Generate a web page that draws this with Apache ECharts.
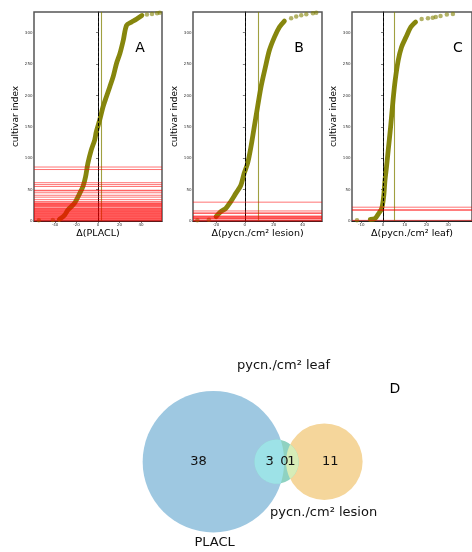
<!DOCTYPE html>
<html>
<head>
<meta charset="utf-8">
<script src="https://cdn.jsdelivr.net/npm/echarts@6/dist/echarts.min.js"></script>
<style>
  html, body { margin: 0; padding: 0; background: #fff; }
  #main { width: 472px; height: 552px; }
</style>
</head>
<body>
<div id="main"></div>
<script>
// ---- panel A : Δ(PLACL) ----
const placlDelta = [-36, -31, -28, -22, -17, -14, -11.6, -9.4, -6.3, -3.1, -1.6, 1.6, 4.7, 7.8, 11, 14.1, 17.2, 20.4, 23.5, 26.6, 31.3, 36, 40.8];
const placlIndex = [2.6, 9.5, 17.5, 28, 44, 55, 70, 92, 113, 129, 142, 161, 182, 198, 214, 230, 251, 267, 288, 312, 317, 322, 327.5];
const placlDotDelta = [-55, -42, 45.5, 50.2, 54.9, 57.4];
const placlDotIndex = [1, 1.5, 329, 330, 331, 332];
const placlRef = 3.4;
const placlHits = [86, 82, 61, 58, 55, 49, 48, 45, 41, 38, 34,
  29, 28, 27, 26, 25, 24, 23, 21, 20, 19, 18, 17, 16, 15, 14, 13, 12, 11, 10, 9, 8, 7, 6, 5, 4, 3, 2, 1, 0, 31];

// ---- panel B : Δ(pycn./cm² lesion) ----
const lesionDelta = [-20, -16.7, -13.3, -9.8, -6.3, -2.8, -0.5, 1.9, 4.2, 6.5, 8.8, 11.2, 14.2, 17, 20.5, 24, 27.4];
const lesionIndex = [7, 15, 20, 31, 44, 57, 76, 92, 118, 150, 182, 214, 245, 272, 293, 309, 318.5];
const lesionDotDelta = [-33, -25, 32.1, 35.6, 39.1, 42.6, 47.2, 49.5];
const lesionDotIndex = [1, 2, 323, 326, 328, 329.6, 331, 332];
const lesionRef = 9.2;
const lesionHits = [30, 16, 13, 12, 8, 7, 6, 5, 4, 3, 1, 0];

// ---- panel C : Δ(pycn./cm² leaf) ----
const leafDelta = [-5.9, -3.7, -2, -0.6, 0.3, 0.9, 1.6, 2.4, 3.5, 4.6, 5.6, 7, 8.5, 10.6, 12.8, 15];
const leafIndex = [2.6, 4, 12, 20, 39, 65, 86, 113, 150, 192, 224, 256, 277, 293, 309, 317];
const leafDotDelta = [-12, 17.8, 20.7, 22.9, 24.3, 26.5, 29.4, 32.2];
const leafDotIndex = [1, 322, 323, 324, 325, 326.5, 329, 330];
const leafRef = 5.3;
const leafHits = [22, 18, 17, 1];

const indexTicks = [0, 50, 100, 150, 200, 250, 300];

// ---- panel D : venn ----
const vennNames = ['PLACL', 'pycn./cm² leaf', 'pycn./cm² lesion'];
// PLACL only, PLACL∩leaf, leaf only, leaf∩lesion, lesion only
const vennCounts = [38, 3, 0, 1, 11];

const font = 'DejaVu Sans';
const olive = '#7f7f00';
const hitRed = 'rgba(255,0,0,0.55)';

function pairs(xs, ys) { return xs.map((x, i) => [x, ys[i]]); }

const panels = [
  { name: 'Δ(PLACL)', delta: placlDelta, idx: placlIndex, dx: placlDotDelta, dy: placlDotIndex,
    ref: placlRef, hits: placlHits, min: -59.5, max: 59.5, ticks: [-40, -20, 0, 20, 40] },
  { name: 'Δ(pycn./cm² lesion)', delta: lesionDelta, idx: lesionIndex, dx: lesionDotDelta, dy: lesionDotIndex,
    ref: lesionRef, hits: lesionHits, min: -36, max: 53.5, ticks: [-20, 0, 20, 40] },
  { name: 'Δ(pycn./cm² leaf)', delta: leafDelta, idx: leafIndex, dx: leafDotDelta, dy: leafDotIndex,
    ref: leafRef, hits: leafHits, min: -14.3, max: 41, ticks: [-10, 0, 10, 20, 30] }
];

const grids = [
  { left: 34, top: 12, width: 128, height: 209 },
  { left: 193, top: 12, width: 129, height: 209 },
  { left: 352, top: 12, width: 129, height: 209 }
].map(g => Object.assign(g, { show: true, borderColor: '#555', borderWidth: 1.5, containLabel: false }));
grids.push({ left: 125, top: 373.3, width: 221, height: 176.8 });

const xAxes = panels.map((p, i) => ({
  type: 'value', gridIndex: i, min: p.min, max: p.max,
  name: p.name, nameLocation: 'middle', nameGap: 8,
  nameTextStyle: { fontFamily: font, fontSize: 9.5, color: '#000' },
  axisLine: { show: true, lineStyle: { color: '#222', width: 1 } },
  axisTick: { show: true, length: 2, customValues: p.ticks, lineStyle: { color: '#222', width: 0.6 } },
  axisLabel: { customValues: p.ticks, fontSize: 4, fontFamily: font, color: '#333', margin: 2 },
  splitLine: { show: false }
}));
xAxes.push({ type: 'value', gridIndex: 3, min: -8, max: 12, show: false });

const yAxes = panels.map((p, i) => ({
  type: 'value', gridIndex: i, min: 0, max: 333,
  name: 'cultivar index', nameLocation: 'middle', nameGap: 14,
  nameTextStyle: { fontFamily: font, fontSize: 9, color: '#000' },
  axisLine: { show: true, lineStyle: { color: '#222', width: 1 } },
  axisTick: { show: true, length: 2, customValues: indexTicks, lineStyle: { color: '#222', width: 0.6 } },
  axisLabel: { customValues: indexTicks, fontSize: 4, fontFamily: font, color: '#333', margin: 1.5 },
  splitLine: { show: false }
}));
yAxes.push({ type: 'value', gridIndex: 3, min: -8, max: 8, show: false });

const series = [];
panels.forEach((p, i) => {
  series.push({
    type: 'line', xAxisIndex: i, yAxisIndex: i, z: 2,
    data: pairs(p.delta, p.idx), showSymbol: false, smooth: 0.3,
    lineStyle: { color: olive, width: 4.8, opacity: 0.95, cap: 'round', join: 'round' },
    markLine: {
      silent: true, symbol: 'none', label: { show: false },
      data: [
        { xAxis: 0, lineStyle: { color: '#000', type: [3, 2], width: 1 } },
        { xAxis: p.ref, lineStyle: { color: 'rgba(128,128,0,0.75)', type: 'solid', width: 1.1 } }
      ]
    }
  });
  series.push({
    type: 'scatter', xAxisIndex: i, yAxisIndex: i, z: 2,
    data: pairs(p.dx, p.dy), symbolSize: 4.5,
    itemStyle: { color: olive, opacity: 0.6 }
  });
  // horizontal red lines across the whole panel at each flagged cultivar index
  series.push({
    type: 'custom', xAxisIndex: i, yAxisIndex: i, z: 5, silent: true,
    data: p.hits.map(v => [p.min, v]),
    renderItem: function (params, api) {
      const a = api.coord([p.min, api.value(1)]);
      const b = api.coord([p.max, api.value(1)]);
      return { type: 'line', shape: { x1: a[0], y1: a[1], x2: b[0], y2: b[1] },
        style: { stroke: hitRed, lineWidth: 1 } };
    }
  });
});

// venn layout (units: sqrt of set size), positions along the centre line
const vennSizes = [vennCounts[0] + vennCounts[1], vennCounts[1] + vennCounts[2] + vennCounts[3], vennCounts[3] + vennCounts[4]];
const vennCentreX = [0, 5.72, 10.04];
const vennCountX = [-1.34, 5.09, 6.42, 7.05, 10.58];
const vennNamePos = [[0.11, -7.33], [6.35, 8.66], [9.97, -4.58]];
const vennFill = ['#9ec8e1', '#8fd2c1', '#f5d69b'];
const overlapFill = ['#9de2e7', '#d6ecb7'];

function lens(a, b) {
  const dx = b.cx - a.cx, dy = b.cy - a.cy;
  const d = Math.hypot(dx, dy), phi = Math.atan2(dy, dx);
  const da = (d * d + a.r * a.r - b.r * b.r) / (2 * d);
  const al = Math.acos(da / a.r), be = Math.acos((d - da) / b.r);
  const pts = [];
  for (let k = 0; k <= 48; k++) {
    const t = phi - al + 2 * al * k / 48;
    pts.push([a.cx + a.r * Math.cos(t), a.cy + a.r * Math.sin(t)]);
  }
  for (let k = 0; k <= 48; k++) {
    const t = phi + Math.PI - be + 2 * be * k / 48;
    pts.push([b.cx + b.r * Math.cos(t), b.cy + b.r * Math.sin(t)]);
  }
  return pts;
}

series.push({
  type: 'custom', xAxisIndex: 3, yAxisIndex: 3, data: [[0, 0]], silent: true, clip: false,
  renderItem: function (params, api) {
    const unit = api.size([1, 1])[0];
    const c = vennSizes.map((n, i) => {
      const p = api.coord([vennCentreX[i], 0]);
      return { cx: p[0], cy: p[1], r: Math.sqrt(n) * unit };
    });
    const children = [];
    [0, 2, 1].forEach(i => children.push({ type: 'circle', shape: c[i], style: { fill: vennFill[i] } }));
    children.push({ type: 'polygon', shape: { points: lens(c[0], c[1]) }, style: { fill: overlapFill[0] } });
    children.push({ type: 'polygon', shape: { points: lens(c[1], c[2]) }, style: { fill: overlapFill[1] } });
    vennCounts.forEach((v, i) => {
      const p = api.coord([vennCountX[i], 0]);
      children.push({ type: 'text', x: p[0], y: p[1], style: {
        text: String(v), fill: '#111', fontFamily: font, fontSize: 13, align: 'center', verticalAlign: 'middle' } });
    });
    vennNames.forEach((nm, i) => {
      const p = api.coord(vennNamePos[i]);
      children.push({ type: 'text', x: p[0], y: p[1], style: {
        text: nm, fill: '#111', fontFamily: font, fontSize: 13, align: 'center', verticalAlign: 'middle' } });
    });
    return { type: 'group', children: children };
  }
});

const letters = [['A', 140, 48], ['B', 299, 48], ['C', 458, 48], ['D', 395, 389]];

const chart = echarts.init(document.getElementById('main'), null, { renderer: 'canvas' });
chart.setOption({
  animation: false,
  backgroundColor: '#fff',
  grid: grids,
  xAxis: xAxes,
  yAxis: yAxes,
  series: series,
  graphic: letters.map(l => ({
    type: 'text', x: l[1], y: l[2], z: 10,
    style: { text: l[0], fontFamily: font, fontSize: 14, fill: '#000', align: 'center', verticalAlign: 'middle' }
  }))
});
</script>
</body>
</html>
